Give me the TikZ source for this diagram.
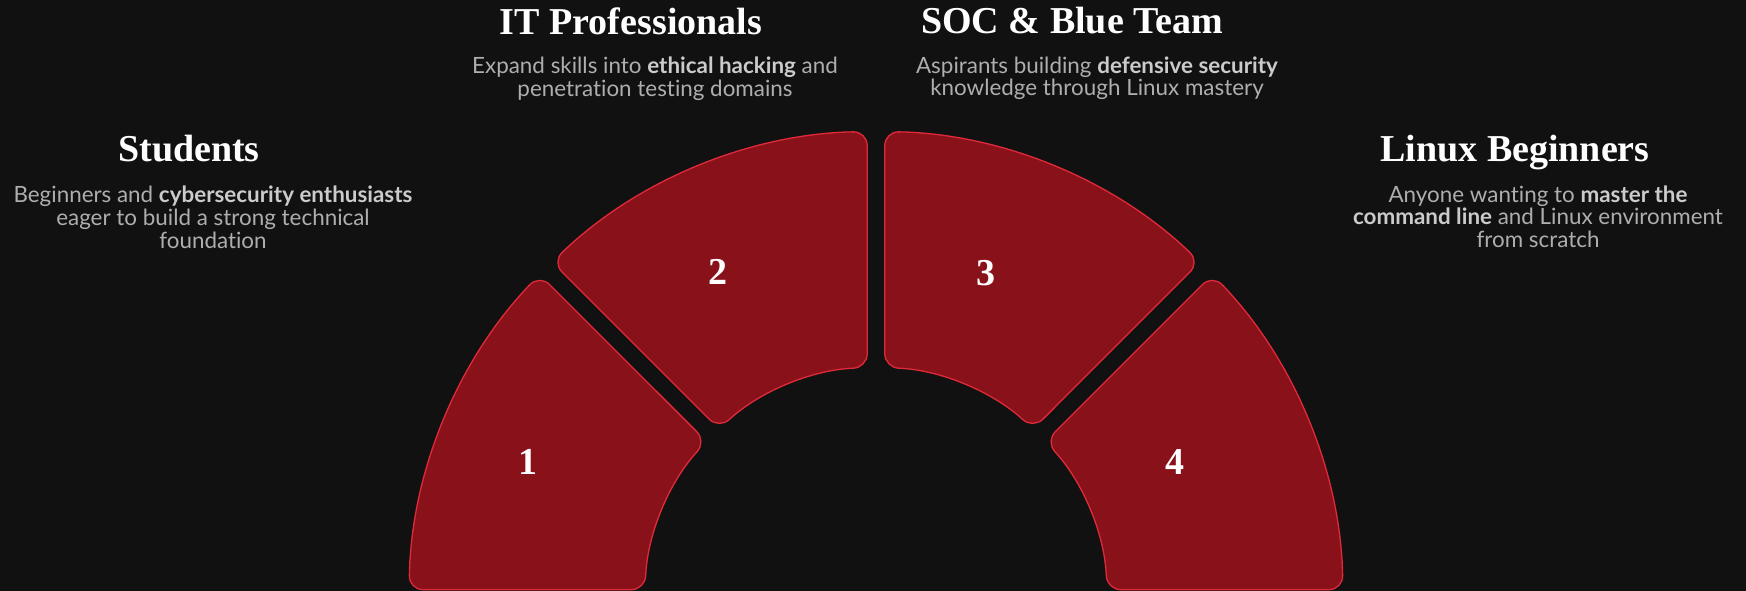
\documentclass[tikz,border=0pt]{standalone}
\usepackage{fontspec}
\setmainfont{Liberation Serif}
\newfontfamily\descfont[Ligatures=NoCommon]{Lato}
\usetikzlibrary{calc}
\definecolor{bg}{HTML}{111111}
\definecolor{segfill}{HTML}{88111A}
\definecolor{segline}{HTML}{E02A3A}
\definecolor{desc}{HTML}{AEAEAE}
\definecolor{descb}{HTML}{CBCBCB}
\begin{document}
\begin{tikzpicture}[x=1pt,y=1pt,
  seg/.style={fill=segfill, draw=segline, line width=1.3pt, rounded corners=14pt},
  num/.style={text=white, font=\fontsize{38}{38}\selectfont\bfseries},
  ttl/.style={text=white, font=\fontsize{38}{40}\selectfont\bfseries, anchor=base, inner sep=0pt},
  dsc/.style={text=desc, font=\descfont\fontsize{22.4}{22.8}\selectfont, align=center, anchor=base, inner sep=0pt}]
\fill[bg] (0,0) rectangle (1746,591);
\useasboundingbox (0,0) rectangle (1746,591);
\coordinate (c) at (876,-7.5);
\def\R{467}\def\r{231}\def\dR{1.08}\def\dr{2.18}
\foreach \a/\b in {180/135, 135/90, 90/45, 45/0}{
  \draw[seg] ($(c)+({\a-\dR}:\R)$) arc[start angle=\a-\dR, end angle=\b+\dR, radius=\R]
    -- ($(c)+({\b+\dr}:\r)$) arc[start angle=\b+\dr, end angle=\a-\dr, radius=\r] -- cycle;
}
\node[num] (n1) at (528,129) {1};
\node[num] (n2) at (718,319) {2};
\node[num] (n3) at (986,318) {3};
\node[num] (n4) at (1175,129) {4};

\node[ttl] (t1) at (189,429) {Students};
\node[dsc] (d1) at (213,342.7) {Beginners and {\bfseries\color{descb}cybersecurity enthusiasts}\\eager to build a strong technical\\foundation};
\node[ttl] (t2) at (631,556.7) {IT Professionals};
\node[dsc] (d2) at (655,494.3) {Expand skills into {\bfseries\color{descb}ethical hacking} and\\penetration testing domains};
\node[ttl] (t3) at (1072,557.7) {SOC \& Blue Team};
\node[dsc] (d3) at (1097,495) {Aspirants building {\bfseries\color{descb}defensive security}\\knowledge through Linux mastery};
\node[ttl] (t4) at (1515,429.3) {Linux Beginners};
\node[dsc] (d4) at (1538,343.3) {Anyone wanting to {\bfseries\color{descb}master the}\\{\bfseries\color{descb}command line} and Linux environment\\from scratch};
\end{tikzpicture}
\end{document}
